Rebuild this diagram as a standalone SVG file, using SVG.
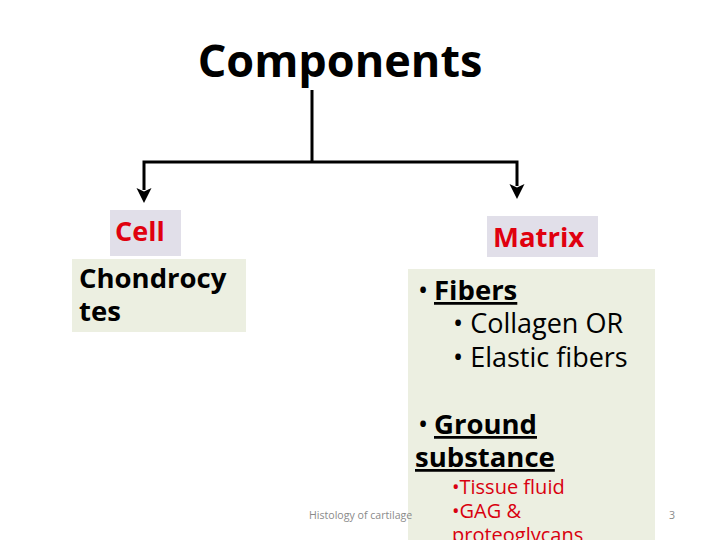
<svg xmlns="http://www.w3.org/2000/svg" width="720" height="540" viewBox="0 0 720 540">
<style>
.t{font-family:"Open Sans","Liberation Sans",sans-serif}
.red{fill:#e0000f;font-weight:bold}
.lav{fill:#e1dfe9}
.grn{fill:#ecefe1}
.b{font-weight:bold}
</style>
<defs>
<marker id="ah" markerWidth="16" markerHeight="16" refX="8" refY="3" orient="0" markerUnits="userSpaceOnUse" viewBox="0 0 16 16">
<path d="M0.5,1 L8,16 L15.5,1 L8,4.5 Z" fill="#000"/>
</marker>
</defs>
<rect width="720" height="540" fill="#fff"/>
<g id="title">
<text class="t b" x="340" y="77" font-size="45" text-anchor="middle">Components</text>
</g>
<g id="connectors" fill="none" stroke="#000" stroke-width="3">
<line x1="312" y1="90" x2="312" y2="162"/>
<polyline points="144,190 144,162 517,162 517,186" marker-start="url(#ah)" marker-end="url(#ah)" stroke-linejoin="miter"/>
</g>
<g id="cell">
<rect class="lav" x="110" y="210" width="71" height="46"/>
<text class="t red" x="115" y="241" font-size="27">Cell</text>
</g>
<g id="chondrocytes">
<rect class="grn" x="72" y="259" width="174" height="73"/>
<text class="t b" x="79" y="288" font-size="27.5">Chondrocy</text>
<text class="t b" x="79" y="321" font-size="27.5">tes</text>
</g>
<g id="matrix">
<rect class="lav" x="487" y="216" width="111" height="41"/>
<text class="t red" x="493" y="247" font-size="27.5">Matrix</text>
</g>
<g id="matrix-details">
<rect class="grn" x="408" y="269" width="247" height="271"/>
<text class="t" x="418" y="300" font-size="27">•</text>
<text class="t b" x="434" y="300" font-size="27.5" text-decoration="underline">Fibers</text>
<text class="t" x="453" y="333" font-size="27">• Collagen OR</text>
<text class="t" x="453" y="367" font-size="27">• Elastic fibers</text>
<text class="t" x="418" y="434" font-size="27">•</text>
<text class="t b" x="434" y="434" font-size="27.5" text-decoration="underline">Ground</text>
<text class="t b" x="415" y="467" font-size="27.5" text-decoration="underline">substance</text>
<text class="t" x="452" y="494" font-size="20" fill="#d9000f">•Tissue fluid</text>
<text class="t" x="452" y="518" font-size="20" fill="#d9000f">•GAG &amp;</text>
<text class="t" x="452" y="542" font-size="20" fill="#d9000f">proteoglycans</text>
</g>
<g id="footer">
<text class="t" x="309" y="519" font-size="10.6" fill="#8a8a8a">Histology of cartilage</text>
<text class="t" x="669" y="519" font-size="10.6" fill="#8a8a8a">3</text>
</g>
</svg>
